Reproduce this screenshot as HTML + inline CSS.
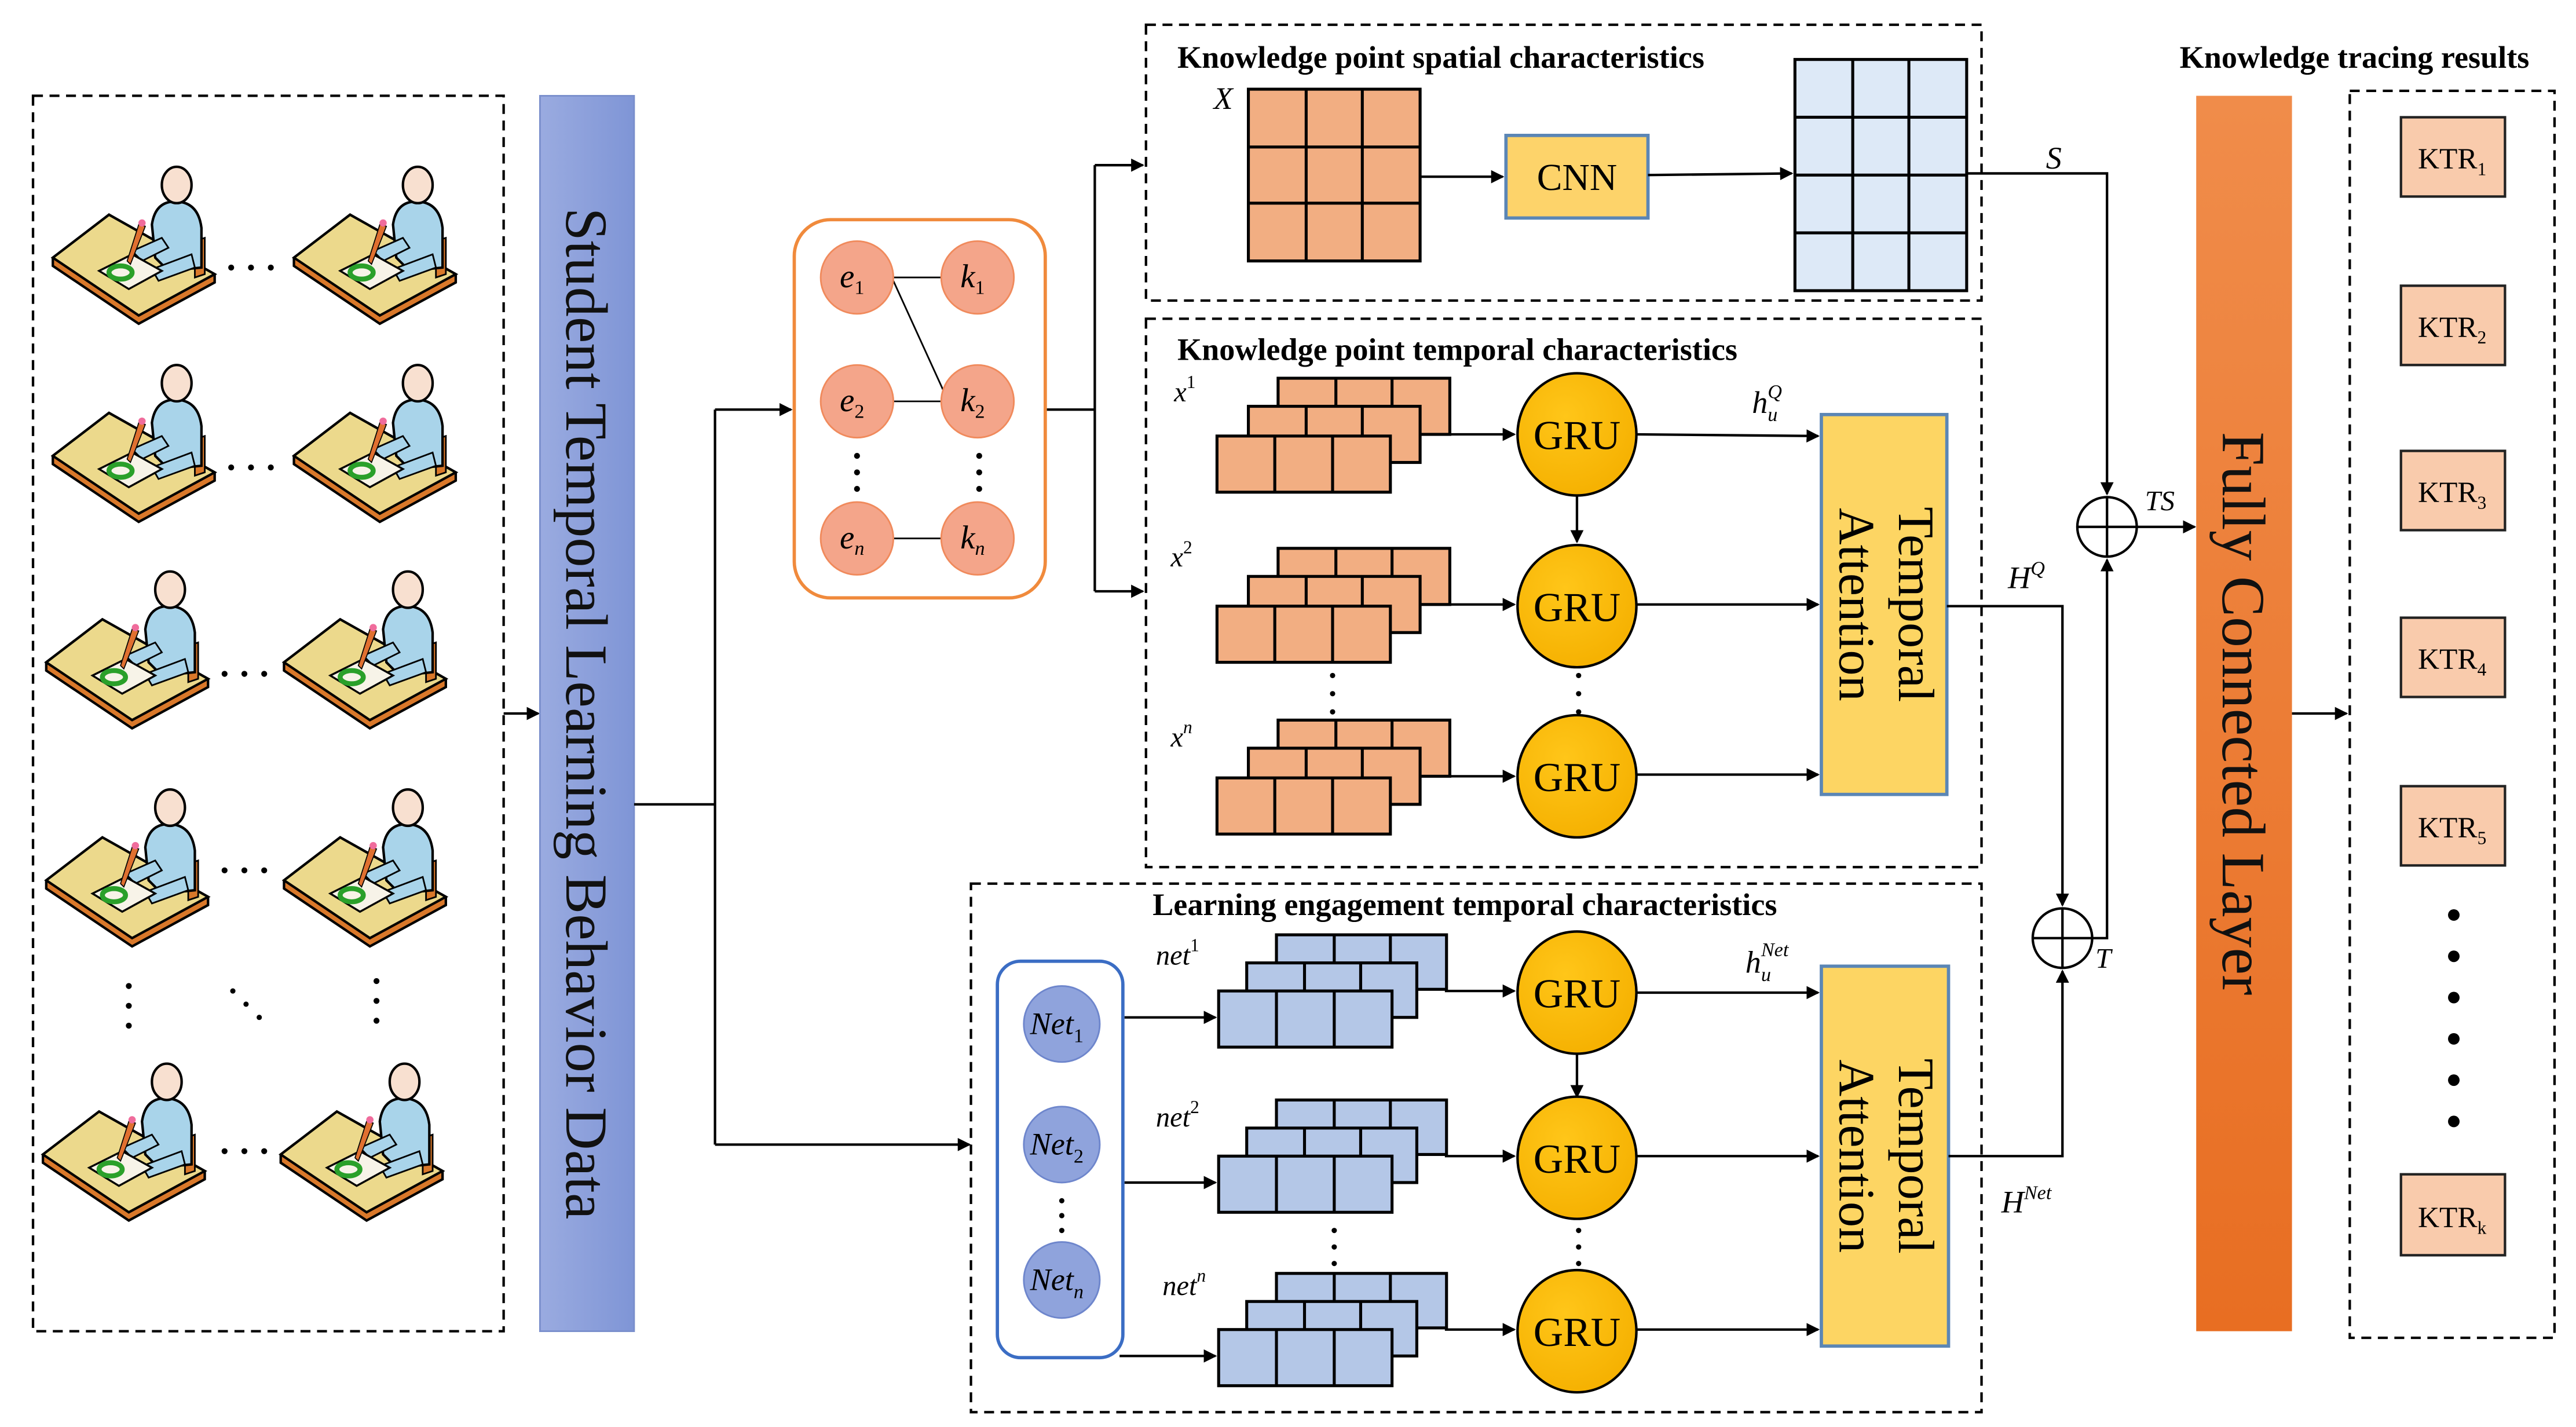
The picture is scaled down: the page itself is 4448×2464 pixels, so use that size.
<!DOCTYPE html>
<html><head><meta charset="utf-8"><style>
html,body{margin:0;padding:0;background:#fff;}
svg{display:block;}
text{font-family:"Liberation Serif",serif;}
</style></head><body>
<svg width="4448" height="2464" viewBox="0 0 1560 864" preserveAspectRatio="none" xmlns="http://www.w3.org/2000/svg">
<defs>
<marker id="ar" markerWidth="8" markerHeight="8" refX="7" refY="4" orient="auto" markerUnits="userSpaceOnUse"><path d="M0,0 L8,4 L0,8 z" fill="#000"/></marker>
<linearGradient id="blueBar" x1="0" y1="0" x2="1" y2="0"><stop offset="0" stop-color="#9aabe0"/><stop offset="1" stop-color="#7f95d6"/></linearGradient>
<linearGradient id="orBar" x1="0" y1="0" x2="0" y2="1"><stop offset="0" stop-color="#f08c4a"/><stop offset="1" stop-color="#e86e22"/></linearGradient>
<radialGradient id="gru" cx="0.4" cy="0.35" r="0.7"><stop offset="0" stop-color="#ffc619"/><stop offset="1" stop-color="#f5b000"/></radialGradient>
<g id="stu">
  <path d="M0,56 L34,30 L98,66 L98,71 L52,96 L0,61 z" fill="#d9782a" stroke="#000" stroke-width="1.5"/>
  <path d="M0,56 L34,30 L98,66 L52,91 z" fill="#ecd98c" stroke="#000" stroke-width="1.5"/>
  <path d="M86,46 L92,44 L92,66 L86,68 z" fill="#d9782a" stroke="#000" stroke-width="1"/>
  <path d="M60,36 Q62,22 74,22 Q88,22 90,38 L90,62 L70,64 L62,56 z" fill="#a9d4ea" stroke="#000" stroke-width="1.5"/>
  <path d="M48,52 L66,44 L70,50 L54,58 z" fill="#a9d4ea" stroke="#000" stroke-width="1"/>
  <path d="M60,63 L84,54 L86,62 L64,70 z" fill="#a9d4ea" stroke="#000" stroke-width="1"/>
  <ellipse cx="75" cy="12" rx="9" ry="11" fill="#f8e0d0" stroke="#000" stroke-width="1.5"/>
  <path d="M28,64 L48,54 L66,64 L46,75 z" fill="#f7f3e8" stroke="#000" stroke-width="1.2"/>
  <ellipse cx="41" cy="65" rx="7" ry="4" fill="none" stroke="#2aa02a" stroke-width="3"/>
  <path d="M52,36 L56,37 L47,60 L45,58 z" fill="#e07030" stroke="#000" stroke-width="0.6"/>
  <circle cx="54" cy="35" r="2.2" fill="#f06c9c"/>
</g>
<g id="stackO">
  <g fill="#f2ae82" stroke="#000" stroke-width="1.8">
  <rect x="37" y="0" width="104" height="34"/><line x1="72" y1="0" x2="72" y2="34"/><line x1="106" y1="0" x2="106" y2="34"/>
  <rect x="19" y="17" width="104" height="34"/><line x1="54" y1="17" x2="54" y2="51"/><line x1="88" y1="17" x2="88" y2="51"/>
  <rect x="0" y="35" width="105" height="34"/><line x1="35" y1="35" x2="35" y2="69"/><line x1="70" y1="35" x2="70" y2="69"/>
  </g>
</g>
<g id="stackB">
  <g fill="#b4c7e7" stroke="#000" stroke-width="1.8">
  <rect x="35" y="0" width="103" height="33"/><line x1="70" y1="0" x2="70" y2="33"/><line x1="104" y1="0" x2="104" y2="33"/>
  <rect x="17" y="17" width="103" height="33"/><line x1="52" y1="17" x2="52" y2="50"/><line x1="86" y1="17" x2="86" y2="50"/>
  <rect x="0" y="34" width="105" height="34"/><line x1="35" y1="34" x2="35" y2="68"/><line x1="70" y1="34" x2="70" y2="68"/>
  </g>
</g>
</defs>

<rect x="20" y="58" width="285" height="748" fill="none" stroke="#000" stroke-width="1.5" stroke-dasharray="6,4"/>
<use href="#stu" x="32" y="100"/><use href="#stu" x="178" y="100"/>
<use href="#stu" x="32" y="220"/><use href="#stu" x="178" y="220"/>
<use href="#stu" x="28" y="345"/><use href="#stu" x="172" y="345"/>
<use href="#stu" x="28" y="477"/><use href="#stu" x="172" y="477"/>
<use href="#stu" x="26" y="643"/><use href="#stu" x="170" y="643"/>
<g fill="#000">
<circle cx="140" cy="162" r="1.8"/><circle cx="152" cy="162" r="1.8"/><circle cx="164" cy="162" r="1.8"/>
<circle cx="140" cy="283" r="1.8"/><circle cx="152" cy="283" r="1.8"/><circle cx="164" cy="283" r="1.8"/>
<circle cx="136" cy="408" r="1.8"/><circle cx="148" cy="408" r="1.8"/><circle cx="160" cy="408" r="1.8"/>
<circle cx="136" cy="527" r="1.8"/><circle cx="148" cy="527" r="1.8"/><circle cx="160" cy="527" r="1.8"/>
<circle cx="136" cy="697" r="1.8"/><circle cx="148" cy="697" r="1.8"/><circle cx="160" cy="697" r="1.8"/>
<circle cx="78" cy="597" r="1.8"/><circle cx="78" cy="609" r="1.8"/><circle cx="78" cy="621" r="1.8"/>
<circle cx="228" cy="594" r="1.8"/><circle cx="228" cy="606" r="1.8"/><circle cx="228" cy="618" r="1.8"/>
<circle cx="141" cy="600" r="1.6"/><circle cx="149" cy="608" r="1.6"/><circle cx="157" cy="616" r="1.6"/>
</g>
<line x1="305" y1="432" x2="326" y2="432" stroke="#000" stroke-width="1.5" marker-end="url(#ar)"/>

<rect x="327" y="58" width="57" height="748" fill="url(#blueBar)" stroke="#7a8fcc" stroke-width="1"/>
<text transform="translate(343,432) rotate(90)" text-anchor="middle" font-size="36" fill="#111">Student Temporal Learning Behavior Data</text>

<g stroke="#000" stroke-width="1.5" fill="none">
<line x1="384" y1="487" x2="433" y2="487"/>
<line x1="433" y1="248" x2="433" y2="693"/>
<line x1="433" y1="248" x2="479" y2="248" marker-end="url(#ar)"/>
<line x1="433" y1="693" x2="587" y2="693" marker-end="url(#ar)"/>
<line x1="633" y1="248" x2="663" y2="248"/>
<line x1="663" y1="100" x2="663" y2="358"/>
<line x1="663" y1="100" x2="692" y2="100" marker-end="url(#ar)"/>
<line x1="663" y1="358" x2="692" y2="358" marker-end="url(#ar)"/>
</g>

<rect x="481" y="133" width="152" height="229" rx="22" fill="#fff" stroke="#f08a3c" stroke-width="2"/>
<g stroke="#000" stroke-width="1">
<line x1="541" y1="168" x2="570" y2="168"/><line x1="541" y1="170" x2="572" y2="238"/>
<line x1="541" y1="243" x2="570" y2="243"/><line x1="541" y1="326" x2="570" y2="326"/>
</g>
<g fill="#f4a58a" stroke="#f08a5c" stroke-width="1">
<circle cx="519" cy="168" r="22"/><circle cx="592" cy="168" r="22"/>
<circle cx="519" cy="243" r="22"/><circle cx="592" cy="243" r="22"/>
<circle cx="519" cy="326" r="22"/><circle cx="592" cy="326" r="22"/>
</g>
<g font-size="20" font-style="italic" text-anchor="middle">
<text x="516" y="174">e<tspan font-size="12" font-style="normal" dy="4">1</tspan></text>
<text x="589" y="174">k<tspan font-size="12" font-style="normal" dy="4">1</tspan></text>
<text x="516" y="249">e<tspan font-size="12" font-style="normal" dy="4">2</tspan></text>
<text x="589" y="249">k<tspan font-size="12" font-style="normal" dy="4">2</tspan></text>
<text x="516" y="332">e<tspan font-size="12" dy="4">n</tspan></text>
<text x="589" y="332">k<tspan font-size="12" dy="4">n</tspan></text>
</g>
<g fill="#000"><circle cx="519" cy="276" r="1.8"/><circle cx="519" cy="286" r="1.8"/><circle cx="519" cy="296" r="1.8"/>
<circle cx="593" cy="276" r="1.8"/><circle cx="593" cy="286" r="1.8"/><circle cx="593" cy="296" r="1.8"/></g>

<rect x="694" y="15" width="506" height="167" fill="none" stroke="#000" stroke-width="1.5" stroke-dasharray="6,4"/>
<text x="713" y="41" font-size="19" font-weight="bold">Knowledge point spatial characteristics</text>
<text x="735" y="66" font-size="19" font-style="italic">X</text>
<g fill="#f2ae82" stroke="#000" stroke-width="1.8">
<rect x="756" y="54" width="104" height="104"/>
<line x1="791" y1="54" x2="791" y2="158"/><line x1="825" y1="54" x2="825" y2="158"/>
<line x1="756" y1="89" x2="860" y2="89"/><line x1="756" y1="123" x2="860" y2="123"/>
</g>
<line x1="860" y1="107" x2="910" y2="107" stroke="#000" stroke-width="1.5" marker-end="url(#ar)"/>
<rect x="912" y="82" width="86" height="50" fill="#fdd36a" stroke="#5b86b5" stroke-width="2"/>
<text x="955" y="115" font-size="23" text-anchor="middle">CNN</text>
<line x1="998" y1="106" x2="1085" y2="105" stroke="#000" stroke-width="1.5" marker-end="url(#ar)"/>
<g fill="#dde9f7" stroke="#000" stroke-width="1.8">
<rect x="1087" y="36" width="104" height="140"/>
<line x1="1122" y1="36" x2="1122" y2="176"/><line x1="1156" y1="36" x2="1156" y2="176"/>
<line x1="1087" y1="71" x2="1191" y2="71"/><line x1="1087" y1="106" x2="1191" y2="106"/><line x1="1087" y1="141" x2="1191" y2="141"/>
</g>
<text x="1239" y="102" font-size="19" font-style="italic">S</text>

<rect x="694" y="193" width="506" height="332" fill="none" stroke="#000" stroke-width="1.5" stroke-dasharray="6,4"/>
<text x="713" y="218" font-size="19" font-weight="bold">Knowledge point temporal characteristics</text>
<use href="#stackO" x="737" y="229"/><use href="#stackO" x="737" y="332"/><use href="#stackO" x="737" y="436"/>
<g font-size="17" font-style="italic">
<text x="711" y="243">x<tspan font-size="11" font-style="normal" dy="-8">1</tspan></text>
<text x="709" y="343">x<tspan font-size="11" font-style="normal" dy="-8">2</tspan></text>
<text x="709" y="452">x<tspan font-size="11" dy="-8">n</tspan></text>
</g>
<g fill="#000"><circle cx="807" cy="409" r="1.6"/><circle cx="807" cy="420" r="1.6"/><circle cx="807" cy="431" r="1.6"/>
<circle cx="956" cy="409" r="1.6"/><circle cx="956" cy="420" r="1.6"/><circle cx="956" cy="431" r="1.6"/></g>
<g stroke="#000" stroke-width="1.5">
<line x1="878" y1="263" x2="917" y2="263" marker-end="url(#ar)"/>
<line x1="878" y1="366" x2="917" y2="366" marker-end="url(#ar)"/>
<line x1="878" y1="470" x2="917" y2="470" marker-end="url(#ar)"/>
<line x1="991" y1="263" x2="1101" y2="264" marker-end="url(#ar)"/>
<line x1="991" y1="366" x2="1101" y2="366" marker-end="url(#ar)"/>
<line x1="991" y1="469" x2="1101" y2="469" marker-end="url(#ar)"/>
<line x1="955" y1="300" x2="955" y2="328" marker-end="url(#ar)"/>
</g>
<g fill="url(#gru)" stroke="#000" stroke-width="1.5">
<ellipse cx="955" cy="263" rx="36" ry="37"/><ellipse cx="955" cy="367" rx="36" ry="37"/><ellipse cx="955" cy="470" rx="36" ry="37"/>
</g>
<g font-size="25" text-anchor="middle"><text x="955" y="272">GRU</text><text x="955" y="376">GRU</text><text x="955" y="479">GRU</text></g>
<rect x="1103" y="251" width="76" height="230" fill="#fdd563" stroke="#5b86b5" stroke-width="2"/>
<text transform="translate(1150,366) rotate(90)" text-anchor="middle" font-size="31">Temporal</text>
<text transform="translate(1114,366) rotate(90)" text-anchor="middle" font-size="31">Attention</text>
<text x="1061" y="250" font-size="19" font-style="italic">h<tspan font-size="12" dy="5">u</tspan><tspan font-size="12" dx="-6" dy="-14">Q</tspan></text>

<rect x="588" y="535" width="612" height="320" fill="none" stroke="#000" stroke-width="1.5" stroke-dasharray="6,4"/>
<text x="698" y="554" font-size="19" font-weight="bold">Learning engagement temporal characteristics</text>
<rect x="604" y="582" width="76" height="240" rx="14" fill="#fff" stroke="#3b6dc4" stroke-width="2"/>
<g fill="#8fa3dc" stroke="#6e86cc" stroke-width="1">
<circle cx="643" cy="620" r="23"/><circle cx="643" cy="693" r="23"/><circle cx="643" cy="775" r="23"/>
</g>
<g font-size="19" font-style="italic" text-anchor="middle">
<text x="640" y="626">Net<tspan font-size="12" font-style="normal" dy="5">1</tspan></text>
<text x="640" y="699">Net<tspan font-size="12" font-style="normal" dy="5">2</tspan></text>
<text x="640" y="781">Net<tspan font-size="12" dy="5">n</tspan></text>
</g>
<g fill="#000"><circle cx="643" cy="727" r="1.6"/><circle cx="643" cy="736" r="1.6"/><circle cx="643" cy="745" r="1.6"/>
<circle cx="808" cy="745" r="1.6"/><circle cx="808" cy="755" r="1.6"/><circle cx="808" cy="765" r="1.6"/>
<circle cx="956" cy="745" r="1.6"/><circle cx="956" cy="755" r="1.6"/><circle cx="956" cy="765" r="1.6"/></g>
<use href="#stackB" x="738" y="566"/><use href="#stackB" x="738" y="666"/><use href="#stackB" x="738" y="771"/>
<g font-size="17" font-style="italic">
<text x="700" y="584">net<tspan font-size="11" font-style="normal" dy="-8">1</tspan></text>
<text x="700" y="682">net<tspan font-size="11" font-style="normal" dy="-8">2</tspan></text>
<text x="704" y="784">net<tspan font-size="11" dy="-8">n</tspan></text>
</g>
<g stroke="#000" stroke-width="1.5">
<line x1="681" y1="616" x2="736" y2="616" marker-end="url(#ar)"/>
<line x1="681" y1="716" x2="736" y2="716" marker-end="url(#ar)"/>
<line x1="678" y1="821" x2="736" y2="821" marker-end="url(#ar)"/>
<line x1="875" y1="600" x2="917" y2="600" marker-end="url(#ar)"/>
<line x1="875" y1="700" x2="917" y2="700" marker-end="url(#ar)"/>
<line x1="875" y1="805" x2="917" y2="805" marker-end="url(#ar)"/>
<line x1="991" y1="601" x2="1101" y2="601" marker-end="url(#ar)"/>
<line x1="991" y1="700" x2="1101" y2="700" marker-end="url(#ar)"/>
<line x1="991" y1="805" x2="1101" y2="805" marker-end="url(#ar)"/>
<line x1="955" y1="638" x2="955" y2="664" marker-end="url(#ar)"/>
</g>
<g fill="url(#gru)" stroke="#000" stroke-width="1.5">
<ellipse cx="955" cy="601" rx="36" ry="37"/><ellipse cx="955" cy="701" rx="36" ry="37"/><ellipse cx="955" cy="806" rx="36" ry="37"/>
</g>
<g font-size="25" text-anchor="middle"><text x="955" y="610">GRU</text><text x="955" y="710">GRU</text><text x="955" y="815">GRU</text></g>
<rect x="1103" y="585" width="77" height="230" fill="#fdd563" stroke="#5b86b5" stroke-width="2"/>
<text transform="translate(1150,700) rotate(90)" text-anchor="middle" font-size="31">Temporal</text>
<text transform="translate(1114,700) rotate(90)" text-anchor="middle" font-size="31">Attention</text>
<text x="1057" y="589" font-size="19" font-style="italic">h<tspan font-size="12" dy="5">u</tspan><tspan font-size="12" dx="-6" dy="-15">Net</tspan></text>

<g stroke="#000" stroke-width="1.5" fill="none">
<polyline points="1191,105 1276,105 1276,299" marker-end="url(#ar)"/>
<polyline points="1179,367 1249,367 1249,548" marker-end="url(#ar)"/>
<polyline points="1180,700 1249,700 1249,588" marker-end="url(#ar)"/>
<polyline points="1267,568 1276,568 1276,339" marker-end="url(#ar)"/>
<line x1="1294" y1="319" x2="1329" y2="319" marker-end="url(#ar)"/>
<circle cx="1276" cy="319" r="18"/><line x1="1258" y1="319" x2="1294" y2="319"/><line x1="1276" y1="301" x2="1276" y2="337"/>
<circle cx="1249" cy="568" r="18" fill="#fff"/><line x1="1231" y1="568" x2="1267" y2="568"/><line x1="1249" y1="550" x2="1249" y2="586"/>
</g>
<text x="1216" y="356" font-size="19" font-style="italic">H<tspan font-size="12" dy="-8">Q</tspan></text>
<text x="1212" y="734" font-size="19" font-style="italic">H<tspan font-size="12" dy="-8">Net</tspan></text>
<text x="1269" y="586" font-size="17" font-style="italic">T</text>
<text x="1299" y="309" font-size="17" font-style="italic">TS</text>

<rect x="1330" y="58" width="58" height="748" fill="url(#orBar)"/>
<text transform="translate(1346,432) rotate(90)" text-anchor="middle" font-size="37" fill="#111">Fully Connected Layer</text>
<line x1="1388" y1="432" x2="1421" y2="432" stroke="#000" stroke-width="1.5" marker-end="url(#ar)"/>

<text x="1320" y="41" font-size="19" font-weight="bold">Knowledge tracing results</text>
<rect x="1423" y="55" width="124" height="755" fill="none" stroke="#000" stroke-width="1.5" stroke-dasharray="6,4"/>
<g fill="#f9cbac" stroke="#222" stroke-width="1.5">
<rect x="1454" y="71" width="63" height="48"/><rect x="1454" y="173" width="63" height="48"/>
<rect x="1454" y="273" width="63" height="48"/><rect x="1454" y="374" width="63" height="48"/>
<rect x="1454" y="476" width="63" height="48"/><rect x="1454" y="711" width="63" height="49"/>
</g>
<g font-size="18" text-anchor="middle">
<text x="1485" y="102">KTR<tspan font-size="11" dy="4">1</tspan></text>
<text x="1485" y="204">KTR<tspan font-size="11" dy="4">2</tspan></text>
<text x="1485" y="304">KTR<tspan font-size="11" dy="4">3</tspan></text>
<text x="1485" y="405">KTR<tspan font-size="11" dy="4">4</tspan></text>
<text x="1485" y="507">KTR<tspan font-size="11" dy="4">5</tspan></text>
<text x="1485" y="743">KTR<tspan font-size="11" dy="4">k</tspan></text>
</g>
<g fill="#000"><circle cx="1486" cy="554" r="3.5"/><circle cx="1486" cy="579" r="3.5"/><circle cx="1486" cy="604" r="3.5"/>
<circle cx="1486" cy="629" r="3.5"/><circle cx="1486" cy="654" r="3.5"/><circle cx="1486" cy="679" r="3.5"/></g>
</svg>
</body></html>
